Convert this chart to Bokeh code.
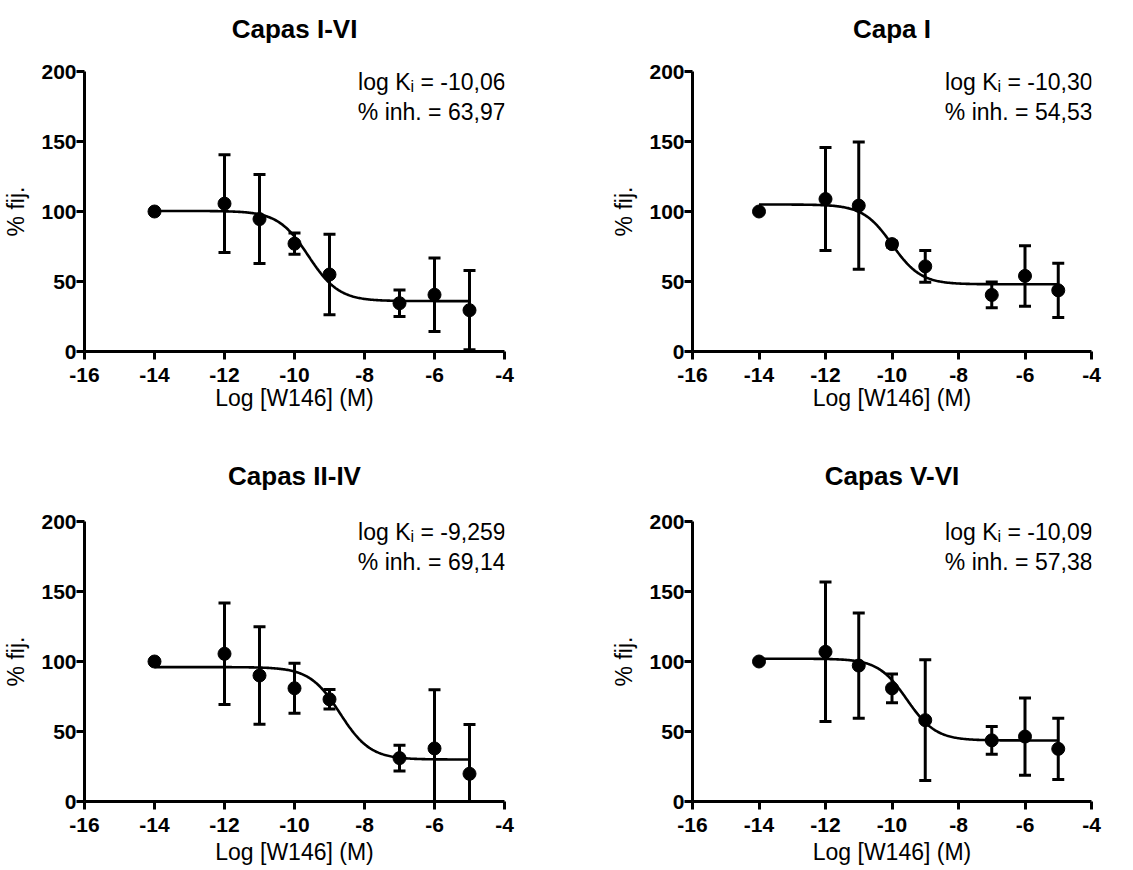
import numpy as np
from bokeh.plotting import figure
from bokeh.layouts import column, row
from bokeh.models import FixedTicker, Label, ColumnDataSource, Title
from bokeh.embed import file_html
from bokeh.resources import INLINE

# ---------------- data ----------------
titles = ["Capas I-VI", "Capa I", "Capas II-IV", "Capas V-VI"]
log_conc = [-14, -12, -11, -10, -9, -7, -6, -5]

mean_capas_1_6 = [100, 105.6, 94.6, 77.0, 55.0, 34.5, 40.5, 29.5]
sem_capas_1_6 = [None, 34.9, 31.8, 7.6, 28.7, 9.5, 26.2, 28.3]

mean_capa_1 = [100, 108.9, 104.2, 76.7, 60.8, 40.4, 54.0, 43.7]
sem_capa_1 = [None, 36.8, 45.4, 2.0, 11.3, 9.2, 21.6, 19.4]

mean_capas_2_4 = [100, 105.5, 90.0, 80.9, 73.0, 31.0, 37.9, 19.8]
sem_capas_2_4 = [None, 36.2, 34.8, 17.8, 7.0, 9.2, 41.9, 35.2]

mean_capas_5_6 = [100, 106.9, 97.1, 80.8, 58.1, 43.7, 46.4, 37.6]
sem_capas_5_6 = [None, 49.8, 37.6, 10.3, 43.1, 9.9, 27.6, 21.9]

means = [mean_capas_1_6, mean_capa_1, mean_capas_2_4, mean_capas_5_6]
sems = [sem_capas_1_6, sem_capa_1, sem_capas_2_4, sem_capas_5_6]

# fitted one-site competition curves (parameters)
fit_top = [100.4, 105.0, 96.0, 102.0]
fit_bottom = [36.0, 48.0, 30.0, 43.6]
fit_logic50 = [-9.6, -10.0, -8.7, -9.55]

log_ki_text = ["-10,06", "-10,30", "-9,259", "-10,09"]
inh_text = ["63,97", "54,53", "69,14", "57,38"]

x_ticks = [-16, -14, -12, -10, -8, -6, -4]
y_ticks = [0, 50, 100, 150, 200]

FONT = "Liberation Sans"

# Arial / Liberation Sans advance widths (em) for text layout of the annotation
ADV = {'l': .222, 'o': .556, 'g': .556, ' ': .278, 'K': .667, 'i': .222, '=': .584,
       '-': .333, ',': .278, '.': .278, '%': .889, 'n': .556, 'h': .556}


def text_width(s, size):
    return sum(ADV.get(c, .556) for c in s) * size


def make_panel(i, bl, br, bt, bb, fw, title_gap, xlabel_standoff):
    p = figure(frame_width=fw, frame_height=280,
               x_range=(-16, -4), y_range=(0, 200),
               output_backend="svg", toolbar_location=None, tools="")
    p.min_border_left = bl
    p.min_border_right = br
    p.min_border_top = bt
    p.min_border_bottom = bb
    p.outline_line_color = None
    p.grid.visible = False
    p.background_fill_color = "white"
    p.border_fill_color = "white"

    # blank spacer between the frame and the title
    p.add_layout(Title(text=" ", text_font_size="1px", standoff=title_gap), "above")

    p.title.text = titles[i]
    p.title.align = "center"
    p.title.vertical_align = "top"
    p.title.text_font = FONT
    p.title.text_font_size = "26px"
    p.title.text_font_style = "bold"
    p.title.text_color = "black"
    p.title.standoff = 0

    for ax in (p.xaxis[0], p.yaxis[0]):
        ax.axis_line_width = 3
        ax.axis_line_color = "black"
        ax.major_tick_line_width = 3
        ax.major_tick_line_color = "black"
        ax.major_tick_out = 8
        ax.major_tick_in = 0
        ax.minor_tick_line_color = None
        ax.major_label_text_font = FONT
        ax.major_label_text_font_size = "21px"
        ax.major_label_text_font_style = "bold"
        ax.major_label_text_color = "black"
        ax.axis_label_text_font = FONT
        ax.axis_label_text_font_size = "23px"
        ax.axis_label_text_font_style = "normal"
        ax.axis_label_text_color = "black"

    p.xaxis[0].ticker = FixedTicker(ticks=x_ticks)
    p.xaxis[0].major_label_overrides = {t: str(t) for t in x_ticks}
    p.yaxis[0].ticker = FixedTicker(ticks=y_ticks)
    p.xaxis[0].axis_label = "Log [W146] (M)"
    p.yaxis[0].axis_label = "% fij."
    p.xaxis[0].major_label_standoff = 8
    p.xaxis[0].axis_label_standoff = xlabel_standoff
    p.yaxis[0].major_label_standoff = 0
    p.yaxis[0].axis_label_standoff = 9

    # fitted curve
    xs = np.linspace(log_conc[0], log_conc[-1], 300)
    ys = fit_bottom[i] + (fit_top[i] - fit_bottom[i]) / (1 + 10 ** (xs - fit_logic50[i]))
    p.line(xs, ys, line_color="black", line_width=2.6)

    # error bars
    m = np.array(means[i], dtype=float)
    e = np.array([np.nan if v is None else v for v in sems[i]], dtype=float)
    src = ColumnDataSource(dict(x=log_conc, y=m, up=m + e, lo=m - e))
    p.segment(x0="x", y0="lo", x1="x", y1="up", source=src, line_color="black", line_width=3)
    p.scatter(x="x", y="up", source=src, marker="dash", size=12, line_color="black", line_width=3)
    p.scatter(x="x", y="lo", source=src, marker="dash", size=12, line_color="black", line_width=3)

    # means
    p.scatter(x="x", y="y", source=src, marker="circle", size=13,
              fill_color="black", line_color="black")

    # annotation
    main_size, sub_size = 23, 16
    right_pad = 1
    rest = "= -" + log_ki_text[i].lstrip("-")
    w_rest = text_width(rest, main_size)
    w_space = text_width(" ", main_size)
    w_sub = text_width("i", sub_size)
    common = dict(x=-4, y=200, x_units="data", y_units="data", text_font=FONT,
                  text_color="black", text_baseline="alphabetic", text_align="right")
    y1, y2 = -10, -40
    p.add_layout(Label(text=rest, x_offset=right_pad, y_offset=y1,
                       text_font_size=f"{main_size}px", **common))
    p.add_layout(Label(text="i", x_offset=right_pad - w_rest - w_space, y_offset=y1 - 5,
                       text_font_size=f"{sub_size}px", **common))
    p.add_layout(Label(text="log K", x_offset=right_pad - w_rest - w_space - w_sub, y_offset=y1,
                       text_font_size=f"{main_size}px", **common))
    p.add_layout(Label(text="% inh. = " + inh_text[i], x_offset=right_pad, y_offset=y2,
                       text_font_size=f"{main_size}px", **common))
    return p


p1 = make_panel(0, 80, 62, 71, 101, 420, 23, 0)
p2 = make_panel(1, 126, 25, 71, 101, 399, 23, 0)
p3 = make_panel(2, 80, 62, 69, 64, 420, 26, 4)
p4 = make_panel(3, 126, 25, 69, 64, 399, 26, 4)

layout = column(row(p1, p2), row(p3, p4))
open("out.html", "w").write(file_html(layout, INLINE))
